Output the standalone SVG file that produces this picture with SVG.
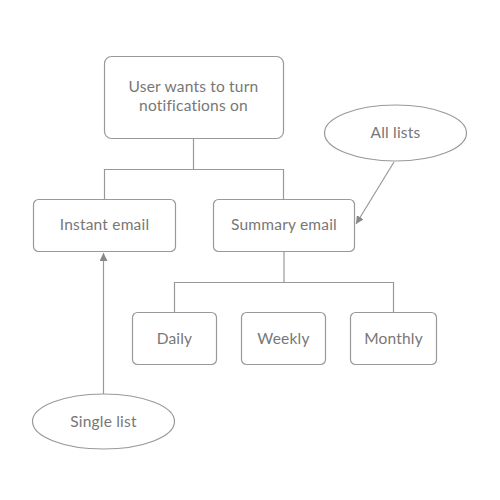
<svg xmlns="http://www.w3.org/2000/svg" width="500" height="500" viewBox="0 0 500 500">
<style>
.box{fill:#fff;stroke:#999;stroke-width:1.2}
.lbl{font-family:Lato,"Open Sans",sans-serif;font-size:15.5px;letter-spacing:0.2px;fill:#777;text-anchor:middle}
.conn{fill:none;stroke:#999;stroke-width:1.2}
</style>
<defs>
<marker id="ah" viewBox="0 0 10 10" refX="10" refY="5" markerWidth="8" markerHeight="8" markerUnits="userSpaceOnUse" orient="auto">
<path d="M0,0 L10,5 L0,10 z" fill="#888"/>
</marker>
</defs>
<rect width="500" height="500" fill="#fff"/>
<g id="connectors">
<path class="conn" d="M193.5,139 V169.5 M104.5,199 V169.5 H283.5 V199"/>
<path class="conn" d="M284,252 V282.5 M174.5,312 V282.5 H393.5 V312"/>
<line class="conn" x1="394" y1="162" x2="356" y2="224" marker-end="url(#ah)"/>
<line class="conn" x1="103.5" y1="394" x2="103.5" y2="253" marker-end="url(#ah)"/>
</g>
<g id="start">
<rect class="box" x="104.5" y="56.5" width="179" height="82" rx="7"/>
<text class="lbl" x="193.5" y="92">User wants to turn</text>
<text class="lbl" x="193.5" y="111">notifications on</text>
</g>
<g id="instant">
<rect class="box" x="33.5" y="199.5" width="142" height="52" rx="5"/>
<text class="lbl" x="104.5" y="230">Instant email</text>
</g>
<g id="summary">
<rect class="box" x="213.5" y="199.5" width="141" height="52" rx="5"/>
<text class="lbl" x="284" y="230">Summary email</text>
</g>
<g id="alllists">
<ellipse class="box" cx="395.5" cy="133" rx="71" ry="28"/>
<text class="lbl" x="395.5" y="138">All lists</text>
</g>
<g id="daily">
<rect class="box" x="132.5" y="312.5" width="84" height="52" rx="5"/>
<text class="lbl" x="174.5" y="344">Daily</text>
</g>
<g id="weekly">
<rect class="box" x="241.5" y="312.5" width="84" height="52" rx="5"/>
<text class="lbl" x="283.5" y="344">Weekly</text>
</g>
<g id="monthly">
<rect class="box" x="350.5" y="312.5" width="86" height="52" rx="5"/>
<text class="lbl" x="393.5" y="344">Monthly</text>
</g>
<g id="singlelist">
<ellipse class="box" cx="103.5" cy="421.5" rx="71" ry="27.5"/>
<text class="lbl" x="103.5" y="427">Single list</text>
</g>
</svg>
